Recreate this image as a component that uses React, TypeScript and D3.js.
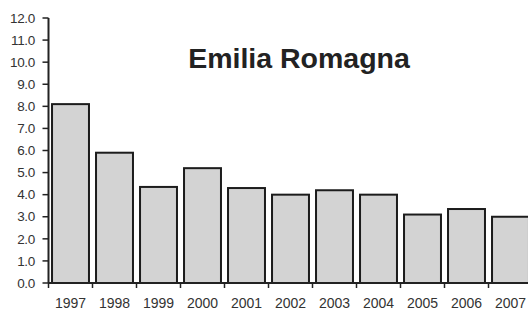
import React from "react";
import * as d3 from "d3";

const years = ["1997", "1998", "1999", "2000", "2001", "2002", "2003", "2004", "2005", "2006", "2007"];
const values = [8.1, 5.9, 4.35, 5.2, 4.3, 4.0, 4.2, 4.0, 3.1, 3.35, 3.0];
const yTicks = [0, 1, 2, 3, 4, 5, 6, 7, 8, 9, 10, 11, 12];
const title = "Emilia Romagna";

const W = 528;
const H = 311;
const left = 48.5;
const right = 532.5;
const top = 18;
const bottom = 283;

export default function App() {
  const x = d3
    .scaleBand<string>()
    .domain(years)
    .range([left, right])
    .paddingInner(0.16)
    .paddingOuter(0.08);
  const y = d3.scaleLinear().domain([0, 12]).range([bottom, top]);
  const gap = (x.step() - x.bandwidth()) / 2;
  const font = "'Liberation Sans', Arial, sans-serif";
  const ink = "#222";

  return (
    <svg
      width={W}
      height={H}
      style={{ position: "absolute", left: 0, top: 0, background: "#fff" }}
      fontFamily={font}
    >
      <rect x={0} y={0} width={W} height={H} fill="#fff" />
      {years.map((yr, i) => (
        <rect
          key={yr}
          x={x(yr)!}
          y={y(values[i])}
          width={x.bandwidth()}
          height={y(0) - y(values[i])}
          fill="#d3d3d3"
          stroke="#1c1c1c"
          strokeWidth={2}
        />
      ))}
      {/* y axis */}
      <line x1={left} x2={left} y1={top} y2={bottom} stroke={ink} strokeWidth={2} />
      {yTicks.map((t) => (
        <g key={t}>
          <line x1={left - 6} x2={left} y1={y(t)} y2={y(t)} stroke={ink} strokeWidth={1.5} />
          <text
            x={35}
            y={y(t)}
            dy="0.35em"
            textAnchor="end"
            fontSize={13.5}
            fill="#333"
            letterSpacing={-0.3}
          >
            {d3.format(".1f")(t)}
          </text>
        </g>
      ))}
      {/* x axis */}
      <line x1={left} x2={W} y1={bottom} y2={bottom} stroke={ink} strokeWidth={2} />
      {years.map((yr) => (
        <g key={yr}>
          <line
            x1={x(yr)! - gap}
            x2={x(yr)! - gap}
            y1={bottom}
            y2={bottom + 5}
            stroke={ink}
            strokeWidth={1.5}
          />
          <text
            x={x(yr)! + x.bandwidth() / 2}
            y={308}
            textAnchor="middle"
            fontSize={14}
            fill="#333"
          >
            {yr}
          </text>
        </g>
      ))}
      <text
        x={299}
        y={68}
        textAnchor="middle"
        fontSize={28.5}
        fontWeight="bold"
        fill="#222"
      >
        {title}
      </text>
    </svg>
  );
}
